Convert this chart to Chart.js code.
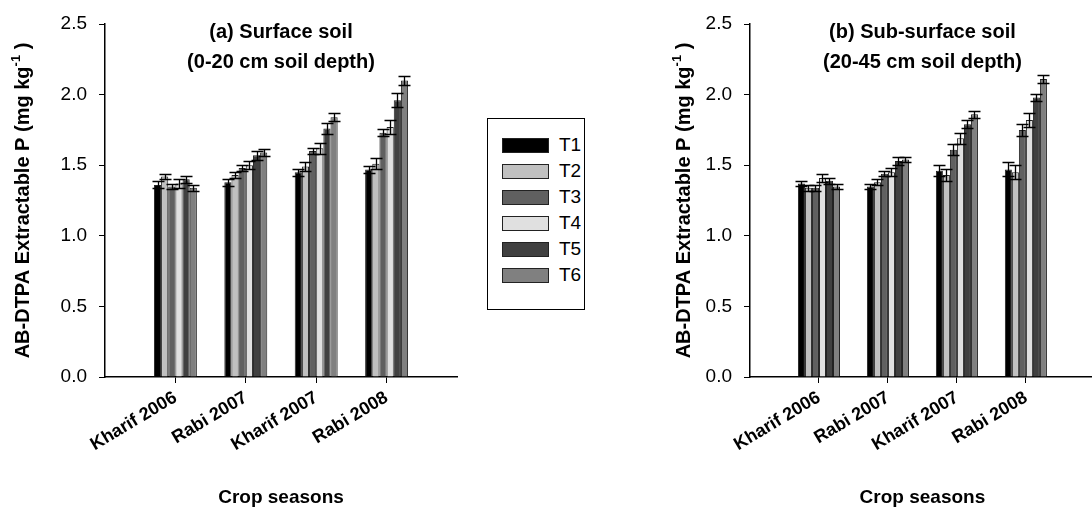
<!DOCTYPE html>
<html>
<head>
<meta charset="utf-8">
<script src="https://cdn.jsdelivr.net/npm/chart.js@4.4.1/dist/chart.umd.min.js"></script>
<style>
  html, body { margin: 0; padding: 0; background: #fff; overflow: hidden; }
  #wrap { position: relative; width: 1092px; height: 511px; overflow: hidden; }
  canvas { position: absolute; top: 0; }
  #legend {
    position: absolute; left: 487px; top: 118px; width: 98px; height: 192px;
    border: 1px solid #000; box-sizing: border-box;
    font-family: 'Liberation Sans', Arial, sans-serif; font-size: 19px; color: #000;
  }
  .row { position: absolute; left: 14px; height: 16px; display: flex; align-items: center; }
  .sw { width: 47px; height: 15px; box-sizing: border-box; border: 1px solid #222; margin-right: 10px; }
</style>
</head>
<body>
<div id="wrap">
  <canvas id="surface" width="480" height="511" style="left:0px"></canvas>
  <canvas id="subsurface" width="470" height="511" style="left:640px"></canvas>
  <div id="legend"></div>
</div>
<script>
// Crop seasons on the x axis
const seasons = ['Kharif 2006', 'Rabi 2007', 'Kharif 2007', 'Rabi 2008'];
// Treatments
const treatments = ['T1', 'T2', 'T3', 'T4', 'T5', 'T6'];
const treatmentColors = ['#000000', '#c0c0c0', '#606060', '#e0e0e0', '#404040', '#808080'];
const yTicks = [0, 0.5, 1.0, 1.5, 2.0, 2.5];

// Surface soil (0-20 cm), AB-DTPA extractable P, mg/kg — one array per treatment
const surfT1 = [1.36, 1.38, 1.45, 1.47];
const surfT2 = [1.42, 1.43, 1.49, 1.51];
const surfT3 = [1.35, 1.48, 1.60, 1.73];
const surfT4 = [1.37, 1.50, 1.62, 1.77];
const surfT5 = [1.40, 1.57, 1.76, 1.96];
const surfT6 = [1.34, 1.59, 1.84, 2.10];
// Standard errors, surface soil
const surfErrT1 = [0.025, 0.025, 0.025, 0.025];
const surfErrT2 = [0.02, 0.02, 0.03, 0.04];
const surfErrT3 = [0.02, 0.02, 0.02, 0.025];
const surfErrT4 = [0.03, 0.03, 0.04, 0.05];
const surfErrT5 = [0.027, 0.03, 0.04, 0.05];
const surfErrT6 = [0.02, 0.025, 0.03, 0.035];

// Sub-surface soil (20-45 cm)
const subT1 = [1.37, 1.35, 1.46, 1.47];
const subT2 = [1.34, 1.38, 1.43, 1.45];
const subT3 = [1.34, 1.44, 1.61, 1.75];
const subT4 = [1.41, 1.45, 1.69, 1.82];
const subT5 = [1.39, 1.53, 1.79, 1.98];
const subT6 = [1.35, 1.54, 1.86, 2.11];
// Standard errors, sub-surface soil
const subErrT1 = [0.02, 0.02, 0.04, 0.05];
const subErrT2 = [0.02, 0.02, 0.04, 0.05];
const subErrT3 = [0.02, 0.02, 0.04, 0.04];
const subErrT4 = [0.03, 0.03, 0.04, 0.05];
const subErrT5 = [0.02, 0.03, 0.03, 0.025];
const subErrT6 = [0.02, 0.02, 0.025, 0.03];

const FONT = "'Liberation Sans', Arial, sans-serif";

// one empty slot on each side of the seasons so the axis runs past the groups
const axisLabels = ['', ...seasons, ''];
const pad = arr => [null, ...arr, null];

// error bars with caps, drawn over every bar
const errorBars = {
  id: 'errorBars',
  afterDatasetsDraw(chart) {
    const ctx = chart.ctx;
    const y = chart.scales.y;
    ctx.save();
    ctx.strokeStyle = '#000';
    ctx.lineWidth = 1.3;
    chart.data.datasets.forEach((ds, i) => {
      const meta = chart.getDatasetMeta(i);
      meta.data.forEach((bar, j) => {
        const v = ds.data[j];
        if (v == null) return;
        const e = ds.errors[j];
        const top = Math.round(y.getPixelForValue(v + e)) + 0.5;
        const bot = Math.round(y.getPixelForValue(v - e)) + 0.5;
        const x = Math.round(bar.x) + 0.5;
        const cap = 6;
        ctx.beginPath();
        ctx.moveTo(x, top); ctx.lineTo(x, bot);
        ctx.moveTo(x - cap, top); ctx.lineTo(x + cap, top);
        ctx.moveTo(x - cap, bot); ctx.lineTo(x + cap, bot);
        ctx.stroke();
      });
    });
    ctx.restore();
  }
};

// panel heading and rotated y-axis title with a superscript unit
const panelText = {
  id: 'panelText',
  afterDraw(chart, args, opts) {
    const ctx = chart.ctx;
    const area = chart.chartArea;
    const cx = (area.left + area.right) / 2;
    ctx.save();
    ctx.fillStyle = '#000';
    ctx.textAlign = 'center';
    ctx.textBaseline = 'middle';
    ctx.font = 'bold 20px ' + FONT;
    opts.lines.forEach((t, k) => ctx.fillText(t, cx, opts.lineY[k]));

    // y title
    const main = 'AB-DTPA Extractable P (mg kg';
    const sup = '-1';
    const tail = ' )';
    ctx.font = 'bold 20px ' + FONT;
    const w1 = ctx.measureText(main).width;
    const w3 = ctx.measureText(tail).width;
    ctx.font = 'bold 13px ' + FONT;
    const w2 = ctx.measureText(sup).width;
    const total = w1 + w2 + w3;
    const cy = (area.top + area.bottom) / 2;
    ctx.translate(opts.titleX, cy);
    ctx.rotate(-Math.PI / 2);
    ctx.textAlign = 'left';
    ctx.textBaseline = 'alphabetic';
    const x0 = -total / 2;
    ctx.font = 'bold 20px ' + FONT;
    ctx.fillText(main, x0, 7);
    ctx.font = 'bold 13px ' + FONT;
    ctx.fillText(sup, x0 + w1, -2);
    ctx.font = 'bold 20px ' + FONT;
    ctx.fillText(tail, x0 + w1 + w2, 7);
    ctx.restore();
  }
};

function buildDatasets(values, errors) {
  return treatments.map((name, i) => ({
    label: name,
    data: pad(values[i]),
    errors: pad(errors[i]),
    backgroundColor: treatmentColors[i],
    borderColor: '#222',
    borderWidth: 1,
    categoryPercentage: 0.61,
    barPercentage: 1.0
  }));
}

function makeChart(id, values, errors, opts) {
  return new Chart(document.getElementById(id), {
    type: 'bar',
    data: { labels: axisLabels, datasets: buildDatasets(values, errors) },
    plugins: [errorBars, panelText],
    options: {
      responsive: false,
      animation: false,
      devicePixelRatio: 1,
      layout: { padding: { top: 24, right: opts.padRight, bottom: 0, left: 0 } },
      plugins: {
        legend: { display: false },
        tooltip: { enabled: false },
        panelText: { lines: opts.lines, lineY: [32, 62], titleX: opts.titleX }
      },
      scales: {
        x: {
          type: 'category',
          offset: false,
          grid: {
            offset: false,
            drawOnChartArea: false,
            drawTicks: true,
            tickLength: 6,
            tickWidth: 1,
            tickColor: c => (axisLabels[c.index] ? '#000' : 'rgba(0,0,0,0)')
          },
          border: { display: true, color: '#000', width: 1.5 },
          ticks: {
            autoSkip: false, minRotation: 31, maxRotation: 31, padding: 4,
            color: '#000', font: { family: FONT, size: 18, weight: 'bold' }
          },
          title: {
            display: true, text: 'Crop seasons', color: '#000',
            font: { family: FONT, size: 19, weight: 'bold' },
            padding: { top: 0, bottom: 2 }
          },
          afterFit: s => { s.height = 134; }
        },
        y: {
          min: 0, max: 2.5,
          afterBuildTicks: s => { s.ticks = yTicks.map(v => ({ value: v })); },
          grid: { drawOnChartArea: false, drawTicks: true, tickLength: 6, tickWidth: 1, tickColor: '#000' },
          border: { display: true, color: '#000', width: 1.5 },
          ticks: {
            padding: 12, color: '#000',
            font: { family: FONT, size: 19 },
            callback: v => Number(v).toFixed(1)
          },
          afterFit: s => { s.width = opts.axisWidth; }
        }
      }
    }
  });
}

makeChart('surface',
  [surfT1, surfT2, surfT3, surfT4, surfT5, surfT6],
  [surfErrT1, surfErrT2, surfErrT3, surfErrT4, surfErrT5, surfErrT6],
  { lines: ['(a) Surface soil', '(0-20 cm soil depth)'], axisWidth: 105, padRight: 23, titleX: 22 });

makeChart('subsurface',
  [subT1, subT2, subT3, subT4, subT5, subT6],
  [subErrT1, subErrT2, subErrT3, subErrT4, subErrT5, subErrT6],
  { lines: ['(b) Sub-surface soil', '(20-45 cm soil depth)'], axisWidth: 110, padRight: 9, titleX: 43 });

// legend between the panels
const legend = document.getElementById('legend');
treatments.forEach((name, i) => {
  const row = document.createElement('div');
  row.className = 'row';
  row.style.top = (18 + i * 26) + 'px';
  const sw = document.createElement('div');
  sw.className = 'sw';
  sw.style.background = treatmentColors[i];
  const label = document.createElement('span');
  label.textContent = name;
  row.appendChild(sw);
  row.appendChild(label);
  legend.appendChild(row);
});
</script>
</body>
</html>
